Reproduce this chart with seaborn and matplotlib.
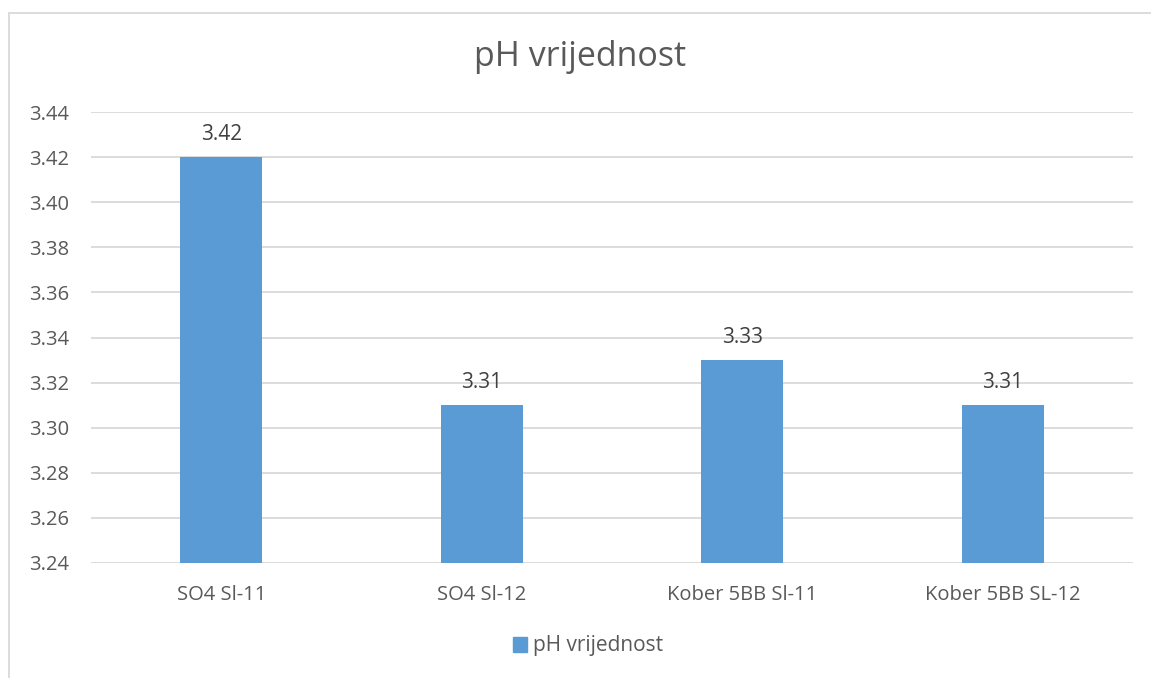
import matplotlib
matplotlib.use("Agg")
import matplotlib.pyplot as plt
import seaborn as sns
import pandas as pd
import numpy as np
from matplotlib.lines import Line2D
from matplotlib.patches import Patch

# dati
uzorci = ["SO4 Sl-11", "SO4 Sl-12", "Kober 5BB Sl-11", "Kober 5BB SL-12"]
ph_vrijednost = [3.42, 3.31, 3.33, 3.31]
y_ticks = [3.24, 3.26, 3.28, 3.30, 3.32, 3.34, 3.36, 3.38, 3.40, 3.42, 3.44]

df = pd.DataFrame({"Uzorak": uzorci, "pH": ph_vrijednost})

sns.set_theme(style="white")
plt.rcParams["font.family"] = ["Open Sans", "DejaVu Sans"]

boja = "#5B9BD5"
tekst = "#595959"

fig = plt.figure(figsize=(11.51, 6.78), dpi=100)
ax = fig.add_axes([91 / 1151, 1 - 563 / 678, (1133 - 91) / 1151, (563 - 112) / 678])

sns.barplot(data=df, x="Uzorak", y="pH", color=boja, width=0.315,
            saturation=1, linewidth=0, ax=ax, zorder=3)

ax.set_ylim(3.24, 3.44)
ax.set_yticks(y_ticks)
ax.set_yticklabels([f"{v:.2f}" for v in y_ticks])
ax.set_xlim(-0.5, len(uzorci) - 0.5)
ax.grid(axis="y", color="#D9D9D9", linewidth=1.3, zorder=0)
ax.set_xlabel("")
ax.set_ylabel("")
for s in ax.spines.values():
    s.set_visible(False)
ax.tick_params(axis="y", labelsize=14.5, colors=tekst, pad=16, length=0)
ax.tick_params(axis="x", labelsize=14.5, colors=tekst, pad=16, length=0)

for barre in ax.containers:
    ax.bar_label(barre, fmt="%.2f", fontsize=15, color="#404040", padding=9)

fig.text(580 / 1151, 1 - 57 / 678, "pH vrijednost", ha="center", va="center",
         fontsize=24.5, color=tekst)

# legenda
fig.legend(handles=[Patch(color=boja, label="pH vrijednost")],
           loc="center", bbox_to_anchor=(588 / 1151, 1 - 646 / 678),
           frameon=False, fontsize=15, labelcolor=tekst,
           handlelength=0.7, handleheight=0.7, handletextpad=0.3)

# bordo del grafico
fig.add_artist(Line2D([9 / 1151, 9 / 1151], [0, 1 - 13 / 678],
                      color="#D9D9D9", linewidth=1.3, transform=fig.transFigure))
fig.add_artist(Line2D([9 / 1151, 1], [1 - 13 / 678, 1 - 13 / 678],
                      color="#D9D9D9", linewidth=1.3, transform=fig.transFigure))

fig.savefig("out.png", dpi=100)
